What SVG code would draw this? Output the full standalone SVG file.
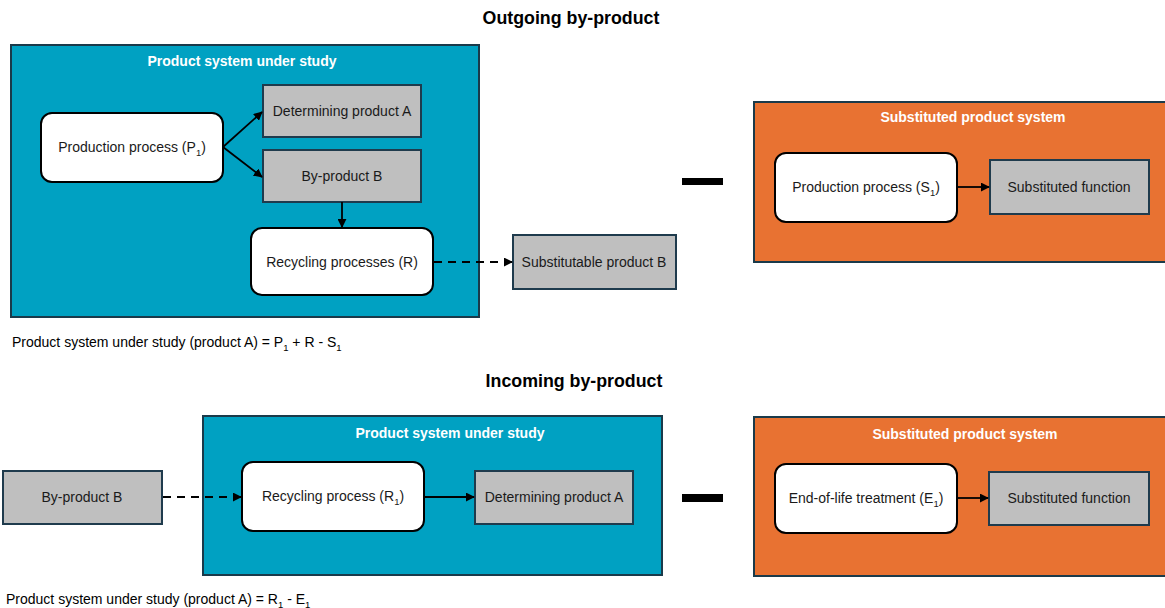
<svg xmlns="http://www.w3.org/2000/svg" width="1165" height="608" viewBox="0 0 1165 608">
  <style>
    text { font-family: "Liberation Sans", Arial, sans-serif; fill: #1a1a1a; }
    .heading { font-size: 17.8px; font-weight: bold; fill: #000; text-anchor: middle; }
    .systitle { font-size: 14px; font-weight: bold; fill: #fff; text-anchor: middle; }
    .label { font-size: 14px; text-anchor: middle; }
    .formula { font-size: 14px; fill: #000; }
    .sub { font-size: 9.5px; }
    .study { fill: #00a1c2; stroke: #1a3a4a; stroke-width: 2; }
    .subst { fill: #e87232; stroke: #1a3a4a; stroke-width: 2; }
    .proc { fill: #fff; stroke: #000; stroke-width: 2; }
    .prod { fill: #bfbfbf; stroke: #1f3b4d; stroke-width: 2; }
    .flow { fill: none; stroke: #000; stroke-width: 1.8; marker-end: url(#arrow); }
    .dashed { stroke-dasharray: 8 6; }
    .minus { fill: #000; }
  </style>
  <defs>
    <marker id="arrow" viewBox="0 0 10 10" refX="9" refY="5" markerWidth="5" markerHeight="5" orient="auto" markerUnits="strokeWidth">
      <path d="M0,0 L10,5 L0,10 z" fill="#000"/>
    </marker>
  </defs>

  <rect width="1165" height="608" fill="#fff"/>

  <!-- Outgoing by-product -->
  <text class="heading" x="571" y="24">Outgoing by-product</text>

  <g id="study-top">
    <rect class="study" x="11" y="45" width="468" height="272"/>
    <text class="systitle" x="242" y="66">Product system under study</text>
  </g>

  <g id="subst-top">
    <rect class="subst" x="754" y="102" width="412" height="160"/>
    <text class="systitle" x="973" y="122">Substituted product system</text>
  </g>

  <g id="p1">
    <rect class="proc" x="41" y="113" width="182" height="69" rx="11"/>
    <text class="label" x="132" y="152">Production process (P<tspan class="sub" dy="4">1</tspan><tspan dy="-4">)</tspan></text>
  </g>

  <g id="det-a-top">
    <rect class="prod" x="263" y="85" width="158" height="52"/>
    <text class="label" x="342" y="116">Determining product A</text>
  </g>

  <g id="byprod-b-top">
    <rect class="prod" x="263" y="150" width="158" height="52"/>
    <text class="label" x="342" y="181">By-product B</text>
  </g>

  <g id="recycling-r">
    <rect class="proc" x="251" y="228" width="182" height="67" rx="11"/>
    <text class="label" x="342" y="267">Recycling processes (R)</text>
  </g>

  <g id="subst-prod-b">
    <rect class="prod" x="513" y="235" width="163" height="54"/>
    <text class="label" x="594" y="267">Substitutable product B</text>
  </g>

  <g id="s1">
    <rect class="proc" x="775" y="153" width="182" height="69" rx="11"/>
    <text class="label" x="866" y="192">Production process (S<tspan class="sub" dy="4">1</tspan><tspan dy="-4">)</tspan></text>
  </g>

  <g id="subst-fn-top">
    <rect class="prod" x="990" y="160" width="159" height="54"/>
    <text class="label" x="1069" y="192">Substituted function</text>
  </g>

  <g id="minus-top">
    <rect class="minus" x="682" y="178" width="41" height="7"/>
  </g>

  <text class="formula" x="12" y="347">Product system under study (product A) = P<tspan class="sub" dy="4">1</tspan><tspan dy="-4"> + R - S</tspan><tspan class="sub" dy="4">1</tspan></text>

  <!-- Incoming by-product -->
  <text class="heading" x="574" y="387">Incoming by-product</text>

  <g id="study-bottom">
    <rect class="study" x="203" y="416" width="459" height="159"/>
    <text class="systitle" x="450" y="438">Product system under study</text>
  </g>

  <g id="subst-bottom">
    <rect class="subst" x="754" y="417" width="412" height="159"/>
    <text class="systitle" x="965" y="439">Substituted product system</text>
  </g>

  <g id="byprod-b-bottom">
    <rect class="prod" x="3" y="471" width="159" height="53"/>
    <text class="label" x="82" y="502">By-product B</text>
  </g>

  <g id="r1">
    <rect class="proc" x="242" y="462" width="182" height="69" rx="11"/>
    <text class="label" x="333" y="501">Recycling process (R<tspan class="sub" dy="4">1</tspan><tspan dy="-4">)</tspan></text>
  </g>

  <g id="det-a-bottom">
    <rect class="prod" x="475" y="471" width="158" height="53"/>
    <text class="label" x="554" y="502">Determining product A</text>
  </g>

  <g id="e1">
    <rect class="proc" x="775" y="464" width="182" height="69" rx="11"/>
    <text class="label" x="866" y="503">End-of-life treatment (E<tspan class="sub" dy="4">1</tspan><tspan dy="-4">)</tspan></text>
  </g>

  <g id="subst-fn-bottom">
    <rect class="prod" x="989" y="472" width="160" height="53"/>
    <text class="label" x="1069" y="503">Substituted function</text>
  </g>

  <g id="minus-bottom">
    <rect class="minus" x="682" y="494" width="41" height="8"/>
  </g>

  <text class="formula" x="6" y="604">Product system under study (product A) = R<tspan class="sub" dy="4">1</tspan><tspan dy="-4"> - E</tspan><tspan class="sub" dy="4">1</tspan></text>

  <!-- connectors -->
  <g id="connectors">
    <line class="flow" x1="223" y1="147" x2="262" y2="112"/>
    <line class="flow" x1="223" y1="147" x2="262" y2="177"/>
    <line class="flow" x1="342" y1="202" x2="342" y2="227"/>
    <line class="flow dashed" x1="434" y1="262" x2="512" y2="262"/>
    <line class="flow" x1="957" y1="187" x2="989" y2="187"/>
    <line class="flow dashed" x1="163" y1="497" x2="241" y2="497"/>
    <line class="flow" x1="424" y1="497" x2="474" y2="497"/>
    <line class="flow" x1="957" y1="498" x2="988" y2="498"/>
  </g>
</svg>
